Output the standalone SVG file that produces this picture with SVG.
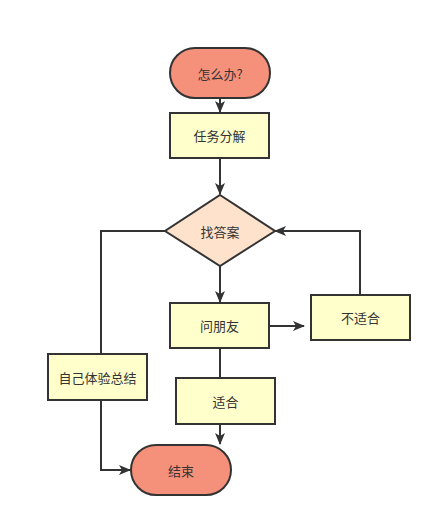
<svg xmlns="http://www.w3.org/2000/svg" width="441" height="527" viewBox="0 0 441 527">
<style>
.n{stroke:#333;stroke-width:2}
.term{fill:#F5917B}
.box{fill:#FFFFCC}
.dec{fill:#FFE2CC}
.c{fill:none;stroke:#333;stroke-width:2}
text{font-family:"Noto Sans CJK SC","Liberation Sans",sans-serif;font-size:13px;fill:#333;text-anchor:middle;dominant-baseline:central}
</style>
<defs>
<marker id="a" markerWidth="12" markerHeight="10" refX="11" refY="5" orient="auto" markerUnits="userSpaceOnUse">
<path d="M0,0 L12,5 L0,10 L3,5 Z" fill="#333"/>
</marker>
</defs>
<rect width="441" height="527" fill="#fff"/>
<g id="connectors">
<path class="c" d="M220,98 V112" marker-end="url(#a)"/>
<path class="c" d="M220,158 V194" marker-end="url(#a)"/>
<path class="c" d="M220,266 V302" marker-end="url(#a)"/>
<path class="c" d="M269,326 H304" marker-end="url(#a)"/>
<path class="c" d="M360,295 V231 H275" marker-end="url(#a)"/>
<path class="c" d="M165,231 H101 V354"/>
<path class="c" d="M101,400 V470 H130" marker-end="url(#a)"/>
<path class="c" d="M220,348 V378"/>
<path class="c" d="M220,424 V444" marker-end="url(#a)"/>
</g>
<g id="start"><rect class="n term" x="170" y="48" width="100" height="50" rx="25"/><text x="220" y="73">怎么办?</text></g>
<g id="decompose"><rect class="n box" x="170" y="113" width="99" height="45"/><text x="219.5" y="135.5">任务分解</text></g>
<g id="find"><path class="n dec" d="M220,195 L275,231 L220,266 L165,231 Z"/><text x="220" y="231">找答案</text></g>
<g id="ask"><rect class="n box" x="170" y="303" width="99" height="45"/><text x="219.5" y="325.5">问朋友</text></g>
<g id="unfit"><rect class="n box" x="311" y="295" width="99" height="45"/><text x="360.5" y="317.5">不适合</text></g>
<g id="self"><rect class="n box" x="48" y="354" width="99" height="46"/><text x="97.5" y="377">自己体验总结</text></g>
<g id="fit"><rect class="n box" x="176" y="378" width="99" height="46"/><text x="225.5" y="401">适合</text></g>
<g id="end"><rect class="n term" x="131" y="445" width="100" height="50" rx="25"/><text x="181" y="470">结束</text></g>
</svg>
